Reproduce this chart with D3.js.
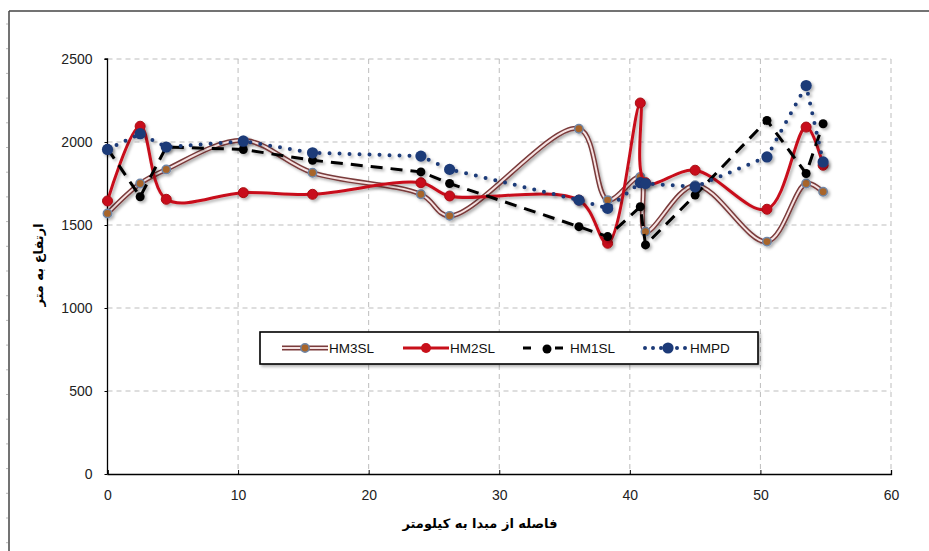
<!DOCTYPE html>
<html><head><meta charset="utf-8">
<script src="https://cdn.jsdelivr.net/npm/d3@7"></script>
<style>
html,body{margin:0;padding:0;background:#fff;}
svg{display:block;}
</style></head>
<body>
<script>
// ---- data ----
const distances = [0, 2.5, 4.5, 10.4, 15.7, 24.0, 26.2, 36.1, 38.3, 40.8, 41.2, 45.0, 50.5, 53.5, 54.8];
const hm3sl = [1570, 1750, 1835, 2010, 1815, 1685, 1555, 2080, 1650, 1790, 1460, 1740, 1400, 1750, 1700];
const hm2sl = [1645, 2095, 1655, 1695, 1685, 1755, 1675, 1650, 1390, 2235, 1755, 1830, 1595, 2090, 1860];
const hm1sl = [1960, 1670, 1970, 1955, 1890, 1820, 1750, 1490, 1430, 1610, 1380, 1680, 2130, 1810, 2110];
const hmpd  = [1955, 2050, 1970, 2005, 1935, 1915, 1835, 1650, 1600, 1755, 1750, 1730, 1910, 2340, 1880];
const seriesNames = ["HM3SL", "HM2SL", "HM1SL", "HMPD"];
const xTicks = [0, 10, 20, 30, 40, 50, 60];
const yTicks = [0, 500, 1000, 1500, 2000, 2500];
const xTitle = "فاصله از مبدا به کیلومتر";
const yTitle = "ارتفاع به متر";

const W = 929, H = 551;
const svg = d3.select("body").append("svg").attr("width", W).attr("height", H);

const defs = svg.append("defs");
const f = defs.append("filter").attr("id", "sh").attr("x", "-20%").attr("y", "-20%").attr("width", "140%").attr("height", "140%");
f.append("feDropShadow").attr("dx", 2).attr("dy", 2).attr("stdDeviation", 1.6).attr("flood-color", "#000").attr("flood-opacity", 0.3);

// outer frame
svg.append("line").attr("x1", 9).attr("x2", W).attr("y1", 11).attr("y2", 11).attr("stroke", "#444").attr("stroke-width", 1.5);
svg.append("line").attr("x1", 9).attr("x2", 9).attr("y1", 11).attr("y2", H).attr("stroke", "#444").attr("stroke-width", 1.5);
for (let y = 24; y < H; y += 24.7) {
  svg.append("line").attr("x1", 6).attr("x2", 8).attr("y1", y).attr("y2", y).attr("stroke", "#bbb").attr("stroke-width", 1);
}

const x = d3.scaleLinear().domain([0, 60]).range([107.5, 891]);
const y = d3.scaleLinear().domain([0, 2500]).range([474, 59]);

// grid
const g = svg.append("g");
g.selectAll(".vg").data(xTicks.filter(d => d > 0)).join("line")
  .attr("x1", d => x(d)).attr("x2", d => x(d)).attr("y1", y(2500)).attr("y2", y(0))
  .attr("stroke", "#bdbdbd").attr("stroke-width", 1).attr("stroke-dasharray", "5,4");
g.selectAll(".hg").data(yTicks.filter(d => d > 0)).join("line")
  .attr("x1", x(0)).attr("x2", x(60)).attr("y1", d => y(d)).attr("y2", d => y(d))
  .attr("stroke", "#bdbdbd").attr("stroke-width", 1).attr("stroke-dasharray", "5,4");

// axes
const xAxis = d3.axisBottom(x).tickValues(xTicks).tickSize(-4).tickPadding(16).tickFormat(d3.format("d"));
const yAxis = d3.axisLeft(y).tickValues(yTicks).tickSize(3).tickPadding(12).tickFormat(d3.format("d"));
const gx = svg.append("g").attr("transform", `translate(0,${y(0)})`).call(xAxis);
const gy = svg.append("g").attr("transform", `translate(${x(0)},0)`).call(yAxis);
[gx, gy].forEach(a => {
  a.select(".domain").attr("stroke", "#000").attr("stroke-width", 1.3);
  a.selectAll(".tick line").attr("stroke", "#000");
  a.selectAll("text").attr("font-family", "Liberation Sans, Arial, sans-serif").attr("font-size", 14).attr("fill", "#222");
});
gy.select(".domain").attr("d", `M-3,${y(2500)}H0V${y(0)}`);

// axis titles
svg.append("text").attr("x", 480).attr("y", 528).attr("text-anchor", "middle")
  .attr("font-family", "DejaVu Sans, sans-serif").attr("font-weight", "bold").attr("font-size", 13)
  .attr("direction", "rtl").text(xTitle);
svg.append("text").attr("transform", "translate(43,265) rotate(-90)").attr("text-anchor", "middle")
  .attr("font-family", "DejaVu Sans, sans-serif").attr("font-weight", "bold").attr("font-size", 13)
  .attr("direction", "rtl").text(yTitle);

function pts(vals) { return distances.map((d, i) => [x(d), y(vals[i])]); }
const smooth = d3.line().curve(d3.curveCatmullRom.alpha(0.5));
const straight = d3.line();

const plot = svg.append("g");

// HM3SL: double line
const p3 = pts(hm3sl);
const s3 = plot.append("g").attr("filter", "url(#sh)");
s3.append("path").attr("d", smooth(p3)).attr("fill", "none").attr("stroke", "#7a3b3b").attr("stroke-width", 5);
s3.append("path").attr("d", smooth(p3)).attr("fill", "none").attr("stroke", "#f6e2e2").attr("stroke-width", 2);
s3.selectAll("circle").data(p3).join("circle").attr("cx", d => d[0]).attr("cy", d => d[1]).attr("r", 4.2)
  .attr("fill", "#a8652a").attr("stroke", "#6f86a6").attr("stroke-width", 1.5);

// HM2SL: red smooth
const p2 = pts(hm2sl);
const s2 = plot.append("g").attr("filter", "url(#sh)");
s2.append("path").attr("d", smooth(p2)).attr("fill", "none").attr("stroke", "#c8101a").attr("stroke-width", 3);
s2.selectAll("circle").data(p2).join("circle").attr("cx", d => d[0]).attr("cy", d => d[1]).attr("r", 5)
  .attr("fill", "#c8101a").attr("stroke", "#a80d14").attr("stroke-width", 1);

// HM1SL: black dashed
const p1 = pts(hm1sl);
const s1 = plot.append("g").attr("filter", "url(#sh)");
s1.append("path").attr("d", straight(p1)).attr("fill", "none").attr("stroke", "#000").attr("stroke-width", 3)
  .attr("stroke-dasharray", "12,8");
s1.selectAll("circle").data(p1).join("circle").attr("cx", d => d[0]).attr("cy", d => d[1]).attr("r", 4.5)
  .attr("fill", "#000");

// HMPD: navy dotted
const p0 = pts(hmpd);
const s0 = plot.append("g").attr("filter", "url(#sh)");
s0.append("path").attr("d", straight(p0)).attr("fill", "none").attr("stroke", "#1c3a78").attr("stroke-width", 4)
  .attr("stroke-linecap", "round").attr("stroke-dasharray", "0,10");
s0.selectAll("circle").data(p0).join("circle").attr("cx", d => d[0]).attr("cy", d => d[1]).attr("r", 5.6)
  .attr("fill", "#1c3a78");

// legend
const lg = svg.append("g");
lg.append("rect").attr("x", 260).attr("y", 332).attr("width", 498).attr("height", 32)
  .attr("fill", "#fff").attr("stroke", "#000").attr("stroke-width", 1.6).attr("filter", "url(#sh)");
const lx = [282, 403, 523, 643];
const ly = 348;
const lt = svg.append("g").attr("font-family", "Liberation Sans, Arial, sans-serif").attr("font-size", 13.5).attr("fill", "#111");
// HM3SL sample
lg.append("line").attr("x1", lx[0]).attr("x2", lx[0] + 46).attr("y1", ly).attr("y2", ly).attr("stroke", "#7a3b3b").attr("stroke-width", 5);
lg.append("line").attr("x1", lx[0]).attr("x2", lx[0] + 46).attr("y1", ly).attr("y2", ly).attr("stroke", "#f6e2e2").attr("stroke-width", 2);
lg.append("circle").attr("cx", lx[0] + 23).attr("cy", ly).attr("r", 4.2).attr("fill", "#a8652a").attr("stroke", "#6f86a6").attr("stroke-width", 1.5);
// HM2SL
lg.append("line").attr("x1", lx[1]).attr("x2", lx[1] + 46).attr("y1", ly).attr("y2", ly).attr("stroke", "#c8101a").attr("stroke-width", 3);
lg.append("circle").attr("cx", lx[1] + 23).attr("cy", ly).attr("r", 5).attr("fill", "#c8101a");
// HM1SL
lg.append("line").attr("x1", lx[2]).attr("x2", lx[2] + 48).attr("y1", ly).attr("y2", ly).attr("stroke", "#000").attr("stroke-width", 3).attr("stroke-dasharray", "8,12,0,12,8");
lg.append("circle").attr("cx", lx[2] + 24).attr("cy", ly + 1).attr("r", 4.5).attr("fill", "#000");
// HMPD
lg.append("line").attr("x1", lx[3] + 2).attr("x2", lx[3] + 48).attr("y1", ly).attr("y2", ly).attr("stroke", "#1c3a78").attr("stroke-width", 4).attr("stroke-linecap", "round").attr("stroke-dasharray", "0,8");
lg.append("circle").attr("cx", lx[3] + 25).attr("cy", ly).attr("r", 5.6).attr("fill", "#1c3a78");
seriesNames.forEach((n, i) => {
  lt.append("text").attr("x", lx[i] + 47).attr("y", ly + 5).text(n);
});
</script>
</body></html>
